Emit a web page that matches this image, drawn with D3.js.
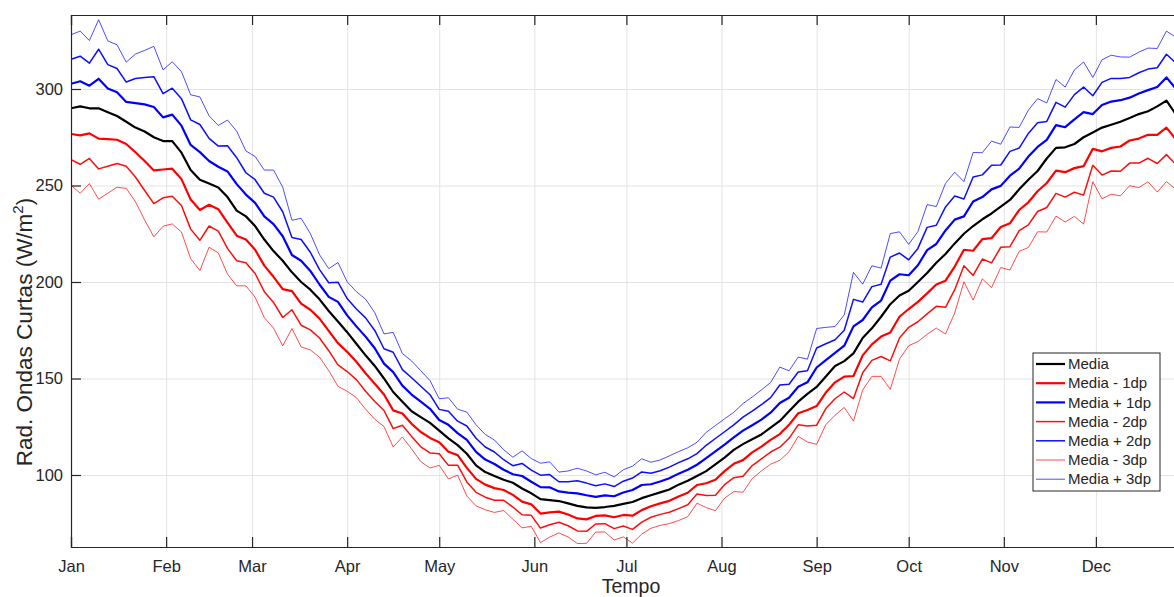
<!DOCTYPE html>
<html lang="pt">

<head>
    <script src="https://d3js.org/d3.v7.min.js"></script>
    <style>
        body {
            margin: 0;
            background: white;
        }

        svg text {
            font-family: "Liberation Sans", Arial, Helvetica, sans-serif;
            fill: #262626;
        }

        .gridlines line {
            stroke: #e3e3e3;
        }

        .gridlines .domain {
            stroke: none;
        }
    </style>
</head>

<body>
    <svg id="chart" width="1174" height="597"></svg>

    <script>
        // dias (a cada 3 dias) desde 1 de janeiro
        const dias = d3.range(0, 361, 3);

        // media diaria (W/m2)
        const media = [
            290, 291, 290, 290, 288, 286, 283, 280, 278, 275, 273, 273, 267, 258, 253, 251, 249, 244, 237, 234,
            229, 222, 216, 211, 205, 200, 196, 191, 185, 179.5, 174, 168, 162, 156.5, 150, 143, 138, 133, 130, 127,
            123, 119, 115.5, 111, 105, 101.5, 99.5, 97.5, 96, 93, 90.5, 87.5, 87, 86.5, 85.3, 84, 83.2, 83, 83.4, 84,
            85, 86, 88, 89.5, 91, 92.5, 95, 97, 99.5, 102, 105.5, 109, 113, 116, 118.5, 121, 124.5, 128, 133, 138,
            142, 145.6, 151, 156.5, 159, 163, 171, 176, 182, 188.5, 193, 195.5, 200, 204.7, 210, 214.5, 220, 225, 229, 232.5,
            235.5, 239, 242.5, 248, 253, 257.5, 264, 269.5, 269.8, 271.5, 275, 277.5, 280, 281.5, 283, 285, 287, 288.5, 291, 294,
            287
        ];

        // desvio padrao acima da media
        const dpMais = [
            12.7, 13.0, 11.7, 15.3, 12.3, 12.3, 10.3, 12.7, 14.0, 15.7, 12.3, 13.7, 14.0, 13.0, 14.3, 11.7, 10.7, 13.3, 13.7, 11.3,
            12.0, 12.0, 14.0, 12.7, 9.0, 11.0, 9.7, 7.7, 7.3, 10.2, 8.7, 9.0, 9.7, 9.2, 7.7, 10.3, 8.3, 8.7, 8.0, 7.3,
            5.5, 7.0, 6.2, 7.2, 7.0, 6.5, 6.2, 5.2, 4.4, 6.5, 6.0, 6.2, 6.6, 5.0, 5.6, 6.5, 6.3, 5.7, 6.0, 5.0,
            5.9, 6.2, 6.8, 5.7, 5.6, 5.8, 5.7, 5.7, 5.8, 6.7, 6.7, 6.7, 6.5, 7.0, 7.3, 7.7, 7.8, 9.3, 7.0, 7.7,
            6.0, 10.1, 8.5, 6.8, 8.0, 14.0, 9.3, 10.8, 8.4, 12.2, 11.0, 8.0, 8.7, 11.8, 9.7, 12.2, 12.3, 9.0, 12.7, 11.5,
            12.5, 10.8, 12.6, 10.7, 12.0, 12.5, 9.6, 11.8, 10.4, 12.8, 13.0, 9.5, 11.7, 12.0, 11.2, 10.5, 10.7, 10.9, 10.0, 12.0,
            13.3
        ];

        // desvio padrao abaixo da media
        const dpMenos = [
            13.3, 15.0, 13.0, 15.7, 14.0, 12.3, 11.5, 12.8, 15.3, 17.2, 14.7, 14.3, 13.7, 15.3, 15.7, 11.0, 11.3, 13.3, 13.0, 12.0,
            12.3, 13.5, 13.3, 14.7, 9.7, 11.2, 10.4, 10.0, 10.3, 11.2, 10.2, 9.3, 9.3, 9.2, 8.3, 9.5, 6.1, 6.5, 7.7, 7.8,
            6.0, 7.0, 5.2, 7.3, 7.0, 6.5, 6.3, 5.3, 6.3, 6.8, 5.7, 7.5, 6.4, 5.5, 5.8, 6.5, 6.2, 4.2, 4.3, 5.9,
            5.7, 7.1, 6.2, 5.7, 5.7, 5.9, 6.2, 6.2, 4.7, 6.3, 8.0, 7.0, 7.2, 8.3, 6.8, 6.3, 6.3, 6.8, 7.0, 6.0,
            8.3, 9.9, 8.3, 8.5, 8.0, 11.7, 9.0, 8.3, 10.3, 14.7, 11.0, 9.5, 10.3, 10.6, 11.3, 13.8, 12.0, 8.3, 12.8, 10.3,
            12.8, 10.5, 12.1, 10.7, 11.7, 10.5, 12.7, 11.8, 12.9, 12.5, 15.0, 8.5, 12.3, 12.0, 12.8, 11.7, 12.7, 12.2, 14.8, 14.0,
            13.0
        ];

        const meses = ["Jan", "Feb", "Mar", "Apr", "May", "Jun", "Jul", "Aug", "Sep", "Oct", "Nov", "Dec"];
        const diaMes = [0, 31, 59, 90, 120, 151, 181, 212, 243, 273, 304, 334];
        const yTicks = [100, 150, 200, 250, 300];

        const series = [
            { nome: "Media", k: 0, cor: "#000000", largura: 2.2, op: 1 },
            { nome: "Media - 1dp", k: -1, cor: "#ff0000", largura: 2.2, op: 1 },
            { nome: "Media + 1dp", k: 1, cor: "#0000ff", largura: 2.2, op: 1 },
            { nome: "Media - 2dp", k: -2, cor: "#ff0000", largura: 1.5, op: 0.95 },
            { nome: "Media + 2dp", k: 2, cor: "#0000ff", largura: 1.5, op: 0.95 },
            { nome: "Media - 3dp", k: -3, cor: "#ff0000", largura: 1, op: 0.7 },
            { nome: "Media + 3dp", k: 3, cor: "#0000ff", largura: 1, op: 0.7 }
        ];

        const svg = d3.select("svg#chart");
        const margins = { top: 15, left: 71, bottom: 50 };
        const plotRight = 1191;
        const plotBottom = 547;

        const xScale = d3.scaleLinear().domain([0, 365]).range([margins.left, plotRight]);
        const yScale = d3.scaleLinear().domain([62.69, 338.34]).range([plotBottom, margins.top]);

        // grade
        svg.append("g")
            .attr("class", "gridlines")
            .attr("transform", `translate(0,${plotBottom})`)
            .call(d3.axisBottom(xScale).tickValues(diaMes).tickFormat("").tickSize(-(plotBottom - margins.top)));

        svg.append("g")
            .attr("class", "gridlines")
            .attr("transform", `translate(${margins.left},0)`)
            .call(d3.axisLeft(yScale).tickValues(yTicks).tickFormat("").tickSize(-(plotRight - margins.left)));

        // linhas
        svg.append("clipPath").attr("id", "clip")
            .append("rect")
            .attr("x", margins.left).attr("y", margins.top)
            .attr("width", plotRight - margins.left).attr("height", plotBottom - margins.top);

        const linhas = svg.append("g").attr("clip-path", "url(#clip)");

        series.forEach(s => {
            let line = d3.line()
                .x((d, i) => xScale(dias[i]))
                .y((d, i) => yScale(media[i] + (s.k >= 0 ? s.k * dpMais[i] : s.k * dpMenos[i])));

            linhas.append("path")
                .datum(media)
                .attr("d", line)
                .attr("fill", "none")
                .attr("stroke", s.cor)
                .attr("stroke-opacity", s.op)
                .attr("stroke-width", s.largura)
                .attr("stroke-linejoin", "round");
        });

        // eixos (ticks para dentro, estilo MATLAB)
        const xAxis = svg.append("g")
            .attr("transform", `translate(0,${plotBottom})`)
            .call(d3.axisBottom(xScale).tickValues(diaMes).tickFormat((d, i) => meses[i]).tickSize(-10).tickPadding(13));

        const xTop = svg.append("g")
            .attr("transform", `translate(0,${margins.top})`)
            .call(d3.axisTop(xScale).tickValues(diaMes).tickFormat("").tickSize(-10));

        const yAxis = svg.append("g")
            .attr("transform", `translate(${margins.left},0)`)
            .call(d3.axisLeft(yScale).tickValues(yTicks).tickSize(-10).tickPadding(8));

        [xAxis, xTop, yAxis].forEach(g => {
            g.select(".domain").attr("stroke", "#262626").attr("stroke-width", 1.2);
            g.selectAll(".tick line").attr("stroke", "#262626").attr("stroke-width", 1.2);
            g.selectAll(".tick text").attr("font-size", 16.5).attr("fill", "#262626");
        });

        // rotulos
        svg.append("text")
            .attr("x", (margins.left + plotRight) / 2)
            .attr("y", 593)
            .attr("text-anchor", "middle")
            .attr("font-size", 19.5)
            .text("Tempo");

        const yLabel = svg.append("text")
            .attr("transform", "translate(32,332) rotate(-90)")
            .attr("text-anchor", "middle")
            .attr("font-size", 22.5);
        yLabel.append("tspan").text("Rad. Ondas Curtas (W/m");
        yLabel.append("tspan").attr("font-size", 15).attr("dy", -9).text("2");
        yLabel.append("tspan").attr("dy", 9).text(")");

        // legenda
        const leg = svg.append("g").attr("transform", "translate(1033,353)");
        leg.append("rect")
            .attr("width", 127).attr("height", 138)
            .attr("fill", "white")
            .attr("stroke", "#262626")
            .attr("stroke-width", 1);

        series.forEach((s, i) => {
            let yy = 11 + i * 19.2;
            leg.append("line")
                .attr("x1", 3).attr("x2", 32)
                .attr("y1", yy).attr("y2", yy)
                .attr("stroke", s.cor)
                .attr("stroke-opacity", s.op)
                .attr("stroke-width", s.largura);
            leg.append("text")
                .attr("x", 35).attr("y", yy)
                .attr("dy", "0.35em")
                .attr("font-size", 15)
                .text(s.nome);
        });
    </script>
</body>

</html>
